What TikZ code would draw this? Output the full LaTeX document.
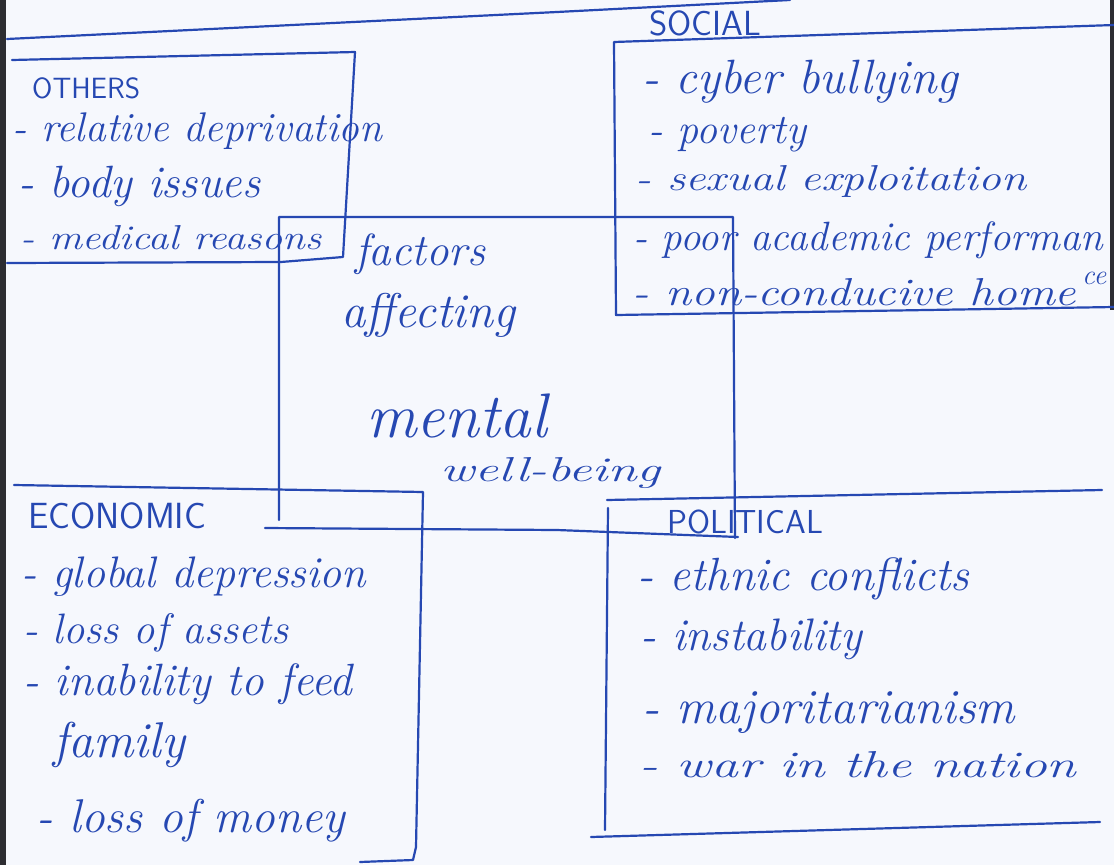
\documentclass[tikz,border=0pt]{standalone}
\usepackage{graphicx}
\definecolor{ink}{RGB}{38,72,178}
\definecolor{paper}{RGB}{246,248,253}
\definecolor{edge}{RGB}{45,45,50}
\tikzset{
  ink line/.style={draw=ink, line width=2.2pt, line cap=round, line join=round},
  hw/.style={anchor=base west, inner sep=0pt, text=ink, font=\itshape\fontsize{40}{48}\selectfont},
  caps/.style={anchor=base west, inner sep=0pt, text=ink, font=\sffamily\fontsize{40}{48}\selectfont}
}
\newcommand{\hwtext}[5][hw]{\node[#1] (#2) at (#3) {\resizebox{#4pt}{!}{#5}};}
\newcommand{\hwsized}[5]{\node[hw] (#1) at (#2) {\resizebox{#3pt}{#4pt}{#5}};}
\begin{document}
\begin{tikzpicture}[x=1pt,y=-1pt]
\useasboundingbox (0,0) rectangle (1114,865);
\fill[paper] (0,0) rectangle (1114,865);
% page edges
\fill[edge] (0,0) rectangle (6,865);
\fill[edge] (1110,0) rectangle (1114,310);
% top ruled line
\draw[ink line] (7,39) -- (557,12) -- (790,0);
% OTHERS box
\draw[ink line] (12,60) -- (355,52) -- (343,257) -- (281,262) -- (7,263);
% central box
\draw[ink line] (279,520) -- (279,217) -- (733,217) -- (735,538);
\draw[ink line] (265,528) -- (557,530) -- (738,537);
% SOCIAL box
\draw[ink line] (1114,25) -- (614,42) -- (616,315) -- (1114,307);
% ECONOMIC box
\draw[ink line] (14,485) -- (423,492) -- (416,847) -- (413,860) -- (360,862);
% POLITICAL box
\draw[ink line] (607,500) -- (1102,490);
\draw[ink line] (608,508) -- (605,830);
\draw[ink line] (591,837) -- (1100,822);
% OTHERS
\hwtext[caps]{others}{32,98}{108}{OTHERS}
\hwtext{o1}{12,141}{370}{- relative deprivation}
\hwtext{o2}{18,197}{242}{- body issues}
\hwsized{o3}{20,249}{301}{24}{- medical reasons}
% centre
\hwtext{c1}{355,265}{130}{factors}
\hwtext{c2}{341,327}{174}{affecting}
\hwtext{c3}{366,437}{181}{mental}
\hwsized{c4}{440,481}{220}{24}{well-being}
% SOCIAL
\hwtext[caps]{social}{649,35}{112}{SOCIAL}
\hwtext{s1}{642,93}{316}{- cyber bullying}
\hwtext{s2}{648,143}{158}{- poverty}
\hwsized{s3}{635,190}{391}{25}{- sexual exploitation}
\hwtext{s4}{633,250}{470}{- poor academic performan}
\hwtext{s4b}{1082,284}{24}{ce}
\hwsized{s5}{632,305}{444}{27}{- non-conducive home}
% ECONOMIC
\hwtext[caps]{economic}{28,528}{178}{ECONOMIC}
\hwtext{e1}{21,587}{345}{- global depression}
\hwtext{e2}{23,643}{265}{- loss of assets}
\hwtext{e3}{23,695}{329}{- inability to feed}
\hwtext{e3b}{53,757}{132}{family}
\hwtext{e4}{36,832}{309}{- loss of money}
% POLITICAL
\hwtext[caps]{political}{667,533}{156}{POLITICAL}
\hwtext{p1}{637,590}{332}{- ethnic conflicts}
\hwtext{p2}{640,650}{222}{- instability}
\hwtext{p3}{642,723}{373}{- majoritarianism}
\hwsized{p4}{639,777}{437}{26}{- war in the nation}
\end{tikzpicture}
\end{document}
